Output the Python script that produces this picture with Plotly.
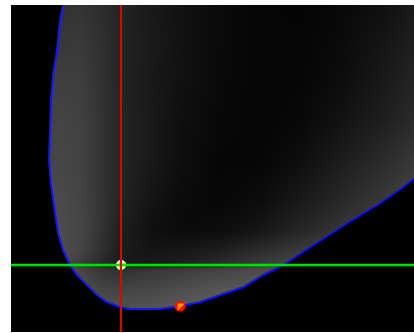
import plotly.graph_objects as go

# Grid nodes of the shaded field (plot units)
grid_x = [0, 29, 49, 69, 89, 110, 139, 169, 209, 249, 289, 329, 369, 403]
grid_y = [0, 22, 42, 62, 70, 82, 102, 132, 172, 212, 252, 292, 327]

# Gray level (0-255) at each node, rows listed bottom to top
gray_rows = [
    [88, 88, 88, 86, 82, 82, 85, 90, 95, 98, 98, 98, 98, 98],
    [88, 88, 88, 86, 82, 82, 85, 90, 95, 98, 98, 98, 98, 98],
    [85, 85, 85, 80, 70, 68, 72, 78, 86, 92, 95, 95, 95, 95],
    [82, 82, 80, 70, 55, 48, 55, 60, 68, 76, 84, 90, 95, 95],
    [82, 82, 76, 62, 42, 25, 24, 30, 42, 58, 70, 80, 90, 95],
    [80, 80, 78, 68, 48, 28, 20, 22, 30, 44, 58, 70, 82, 90],
    [76, 76, 76, 70, 52, 30, 16, 10, 12, 22, 38, 52, 68, 80],
    [72, 72, 74, 68, 53, 35, 20, 11, 7, 12, 25, 40, 55, 70],
    [68, 68, 70, 66, 52, 37, 25, 14, 6, 6, 14, 28, 42, 55],
    [65, 65, 68, 65, 52, 37, 25, 15, 8, 5, 8, 18, 30, 42],
    [60, 60, 63, 62, 50, 36, 25, 17, 9, 5, 6, 12, 24, 36],
    [55, 55, 56, 57, 48, 36, 26, 18, 10, 5, 5, 10, 20, 30],
    [50, 50, 50, 52, 45, 35, 25, 18, 10, 5, 4, 8, 15, 25],
]

# Contour bounding the region
contour_x = [52, 49, 46, 42, 40, 39, 38, 40, 42, 47, 52, 59, 66, 76, 86, 96,
             103, 109, 119, 149, 169, 189, 209, 232, 252, 272, 302, 336, 369, 392, 403]
contour_y = [327, 312, 282, 257, 232, 202, 172, 147, 132, 99, 82, 67, 57, 47, 37, 30,
             27, 25, 23, 23, 26, 30, 37, 45, 57, 67, 87, 109, 129, 145, 154]

# Best estimate and secondary point
est_x, est_y = 110, 67
alt_x, alt_y = 169, 26

X_RANGE = [0, 403]
Y_RANGE = [0, 327]

fig = go.Figure()

fig.add_trace(go.Heatmap(
    x=grid_x, y=grid_y, z=gray_rows,
    zmin=0, zmax=255, zsmooth="best",
    colorscale=[[0, "rgb(0,0,0)"], [1, "rgb(255,255,255)"]],
    showscale=False, hoverinfo="skip",
))

# Black mask outside the contour
pad = 8
mask_x = ([X_RANGE[0] - pad, contour_x[0]] + contour_x +
          [X_RANGE[1] + pad, X_RANGE[1] + pad, X_RANGE[0] - pad])
mask_y = ([Y_RANGE[1] + pad, Y_RANGE[1] + pad] + contour_y +
          [contour_y[-1], Y_RANGE[0] - pad, Y_RANGE[0] - pad])
fig.add_trace(go.Scatter(
    x=mask_x, y=mask_y, mode="lines", fill="toself",
    fillcolor="black", line=dict(width=0, color="black"),
    hoverinfo="skip", showlegend=False,
))

fig.add_trace(go.Scatter(
    x=contour_x, y=contour_y, mode="lines",
    line=dict(color="rgb(20,20,255)", width=2),
    hoverinfo="skip", showlegend=False,
))

fig.add_hline(y=est_y, line=dict(color="rgb(0,225,0)", width=2.5))
fig.add_vline(x=est_x, line=dict(color="rgb(225,0,0)", width=2))

# Estimate marker: white with a yellow upper-left half
fig.add_trace(go.Scatter(
    x=[est_x], y=[est_y], mode="markers",
    marker=dict(symbol="circle", size=10, color="white", line=dict(width=0)),
    hoverinfo="skip", showlegend=False,
))
fig.add_trace(go.Scatter(
    x=[est_x], y=[est_y], mode="markers",
    marker=dict(symbol="triangle-nw", size=9, color="rgb(255,230,0)", line=dict(width=0)),
    hoverinfo="skip", showlegend=False,
))

# Secondary marker: red with an orange upper-left half
fig.add_trace(go.Scatter(
    x=[alt_x], y=[alt_y], mode="markers",
    marker=dict(symbol="circle", size=11, color="rgb(240,20,0)", line=dict(width=0)),
    hoverinfo="skip", showlegend=False,
))
fig.add_trace(go.Scatter(
    x=[alt_x], y=[alt_y], mode="markers",
    marker=dict(symbol="triangle-nw", size=8, color="rgb(255,150,0)", line=dict(width=0)),
    hoverinfo="skip", showlegend=False,
))

fig.update_xaxes(range=X_RANGE, visible=False, showgrid=False, zeroline=False, fixedrange=True)
fig.update_yaxes(range=Y_RANGE, visible=False, showgrid=False, zeroline=False, fixedrange=True)

fig.update_layout(
    width=414, height=333,
    margin=dict(l=11, r=0, t=5, b=1),
    paper_bgcolor="white", plot_bgcolor="black",
    showlegend=False,
)

fig.write_html("out.html")
